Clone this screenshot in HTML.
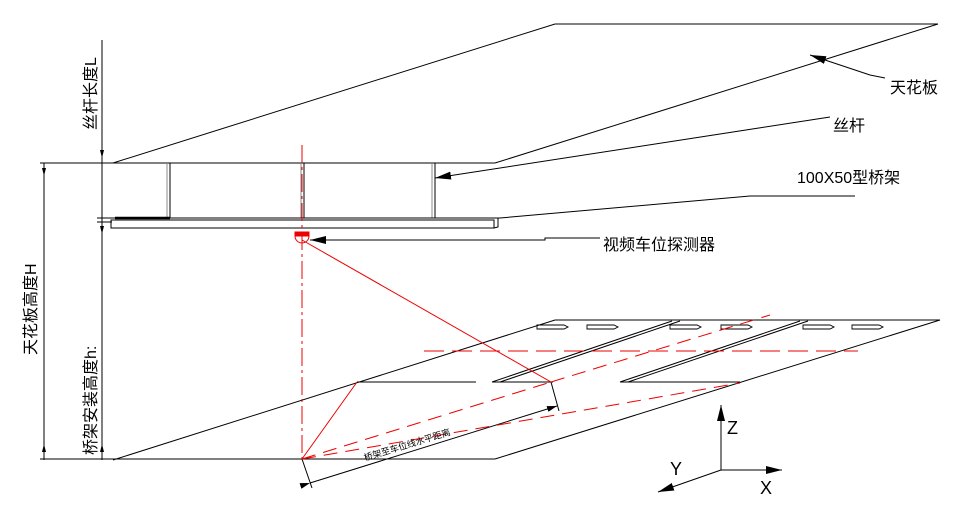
<!DOCTYPE html>
<html><head><meta charset="utf-8"><style>
body{margin:0;background:#fff;}
svg{display:block;}
text{font-family:"Liberation Sans","Noto Sans CJK SC",sans-serif;}
</style></head><body>
<svg width="977" height="505" viewBox="0 0 977 505" xmlns="http://www.w3.org/2000/svg">
<defs>
<marker id="a" markerWidth="10" markerHeight="6" refX="10" refY="3" orient="auto" markerUnits="userSpaceOnUse"><path d="M0,0 L10,3 L0,6z" fill="#000"/></marker>
<marker id="b" markerWidth="16" markerHeight="8" refX="16" refY="4" orient="auto" markerUnits="userSpaceOnUse"><path d="M0,0 L16,4 L0,8z" fill="#000"/></marker>
</defs>
<g stroke="#000" stroke-width="1" fill="none">
<!-- ceiling -->
<polyline points="113,163 555,24 938,24 495,163"/>
<line x1="40" y1="163" x2="495" y2="163"/>
<!-- floor -->
<polyline points="113,460 555,320 940,320 495,459"/>
<line x1="40" y1="459" x2="495" y2="459"/>
<!-- dims -->
<line x1="102" y1="40" x2="102" y2="460"/>
<line x1="44" y1="163" x2="44" y2="460"/>
<line x1="97" y1="218" x2="112" y2="218"/>
<line x1="97" y1="222" x2="112" y2="222"/>
<!-- rods -->
<line x1="167" y1="163" x2="167" y2="218" stroke="#888"/><line x1="170" y1="163" x2="170" y2="218"/>
<line x1="301" y1="163" x2="301" y2="218" stroke="#888"/><line x1="304" y1="163" x2="304" y2="218"/>
<line x1="432" y1="163" x2="432" y2="218" stroke="#888"/><line x1="435" y1="163" x2="435" y2="218"/>
<!-- tray -->
<line x1="111" y1="218" x2="500" y2="218"/>
<rect x="111" y="220" width="383" height="8"/>
<line x1="115" y1="218" x2="170" y2="218" stroke-width="2.5"/>
<polyline points="494,228 498,227 498,218"/>
<!-- leaders -->
<polyline points="885,78 870,75 810,55" marker-end="url(#b)"/>
<polyline points="830,117 435,178" marker-end="url(#b)"/>
<polyline points="855,196 750,196 500,218"/>
<polyline points="600,238 545,238 545,240 310,240" marker-end="url(#b)"/>
<!-- parking -->
<line x1="357" y1="382" x2="476" y2="382"/>
<line x1="492" y1="382" x2="553" y2="382"/>
<line x1="620" y1="382" x2="740" y2="382"/>
<line x1="492" y1="382" x2="672" y2="321"/>
<line x1="500" y1="382" x2="680" y2="321"/>
<line x1="620" y1="382" x2="800" y2="321"/>
<line x1="628" y1="382" x2="808" y2="321"/>
<g stroke-width="0.9">
<path d="M537,325h27l4,2l-4,2h-27z"/><path d="M587,325h27l4,2l-4,2h-27z"/>
<path d="M670,325h27l4,2l-4,2h-27z"/><path d="M721,325h27l4,2l-4,2h-27z"/>
<path d="M803,325h27l4,2l-4,2h-27z"/><path d="M852,325h27l4,2l-4,2h-27z"/>
</g>
<!-- dim line -->
<line x1="302" y1="459" x2="312" y2="488"/>
<line x1="551" y1="382" x2="559" y2="411"/>
<line x1="310" y1="483" x2="557" y2="406" marker-end="url(#a)" marker-start="url(#a)"/>
<!-- axes -->
<line x1="721" y1="470" x2="721" y2="405" marker-end="url(#b)"/>
<line x1="721" y1="470" x2="782" y2="470" marker-end="url(#b)"/>
<line x1="721" y1="470" x2="658" y2="492" marker-end="url(#b)"/>
</g>
<!-- arrowheads on dims -->
<g fill="#000">
<path d="M100,150 L104,150 L102,158z"/><path d="M42,168 L46,168 L44,176z"/><path d="M42,452 L46,452 L44,444z"/>
<path d="M100,452 L104,452 L102,444z"/><path d="M100,226 L104,226 L102,234z"/>
</g>
<!-- red -->
<g stroke="#e00" fill="none" stroke-width="1">
<line x1="302" y1="145" x2="302" y2="459" stroke-dasharray="18,4,3,4"/>
<line x1="302" y1="240" x2="551" y2="382"/>
<line x1="302" y1="459" x2="357" y2="382"/>
<line x1="302" y1="459" x2="551" y2="382" stroke-dasharray="14,8"/>
<line x1="551" y1="382" x2="770" y2="315" stroke-dasharray="14,8"/>
<line x1="302" y1="459" x2="740" y2="383" stroke-dasharray="14,8"/>
<line x1="424" y1="351" x2="858" y2="351" stroke-dasharray="20,8"/>
<path d="M295,236 A7,7 0 0 0 309,236" />
<rect x="295" y="232" width="14" height="4" fill="#e00"/>
</g>
<!-- text -->
<g font-size="16" fill="#000">
<text x="890" y="93">天花板</text>
<text x="833" y="131">丝杆</text>
<text x="797" y="183">100X50型桥架</text>
<text x="603" y="250">视频车位探测器</text>
<text transform="translate(96,130) rotate(-90)">丝杆长度L</text>
<text transform="translate(36,355) rotate(-90)">天花板高度H</text>
<text transform="translate(96,455) rotate(-90)">桥架安装高度h:</text>
<text x="727" y="434" font-size="18">Z</text>
<text x="760" y="494" font-size="18">X</text>
<text x="670" y="475" font-size="18">Y</text>
<text transform="translate(365,461) rotate(-17)" font-size="9">桥架至车位线水平距离</text>
</g>
</svg>
</body></html>
